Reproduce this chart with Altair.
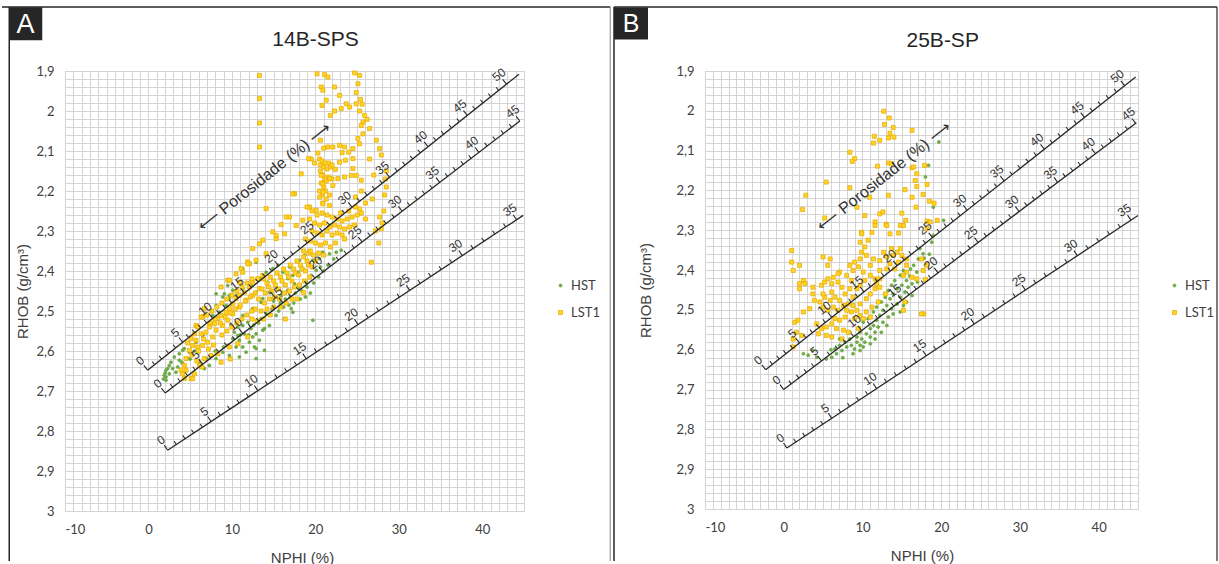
import math
import altair as alt
import pandas as pd

# ------------------------------------------------------------------ data
X_TICKS = list(range(-10, 46))
Y_TICKS = [round(1.9 + 0.02 * i, 2) for i in range(56)]

SERIES = ["HST", "LST1"]

HST_A = [
    (1.9, 2.661), (2.1, 2.648), (2.5, 2.636), (2.9, 2.644), (3.5, 2.640), (4.0, 2.628), (4.7, 2.619),
    (4.9, 2.603), (5.3, 2.586), (4.3, 2.594), (3.7, 2.607), (2.5, 2.657), (2.1, 2.665), (3.3, 2.653),
    (2.1, 2.673), (2.3, 2.644), (2.7, 2.628), (3.7, 2.623), (4.1, 2.632), (3.1, 2.615), (4.1, 2.598),
    (1.8, 2.670), (2.0, 2.655), (5.0, 2.620), (5.5, 2.600),
    (6.1, 2.628), (6.7, 2.644), (7.3, 2.636), (8.1, 2.619), (8.9, 2.603), (9.5, 2.586), (10.1, 2.569),
    (10.3, 2.553), (10.7, 2.540), (11.3, 2.536), (11.9, 2.528), (12.3, 2.544), (11.5, 2.557), (10.9, 2.573),
    (10.5, 2.590), (9.7, 2.611), (11.3, 2.590), (12.1, 2.578), (12.5, 2.565), (12.9, 2.557), (13.9, 2.544),
    (13.3, 2.573), (12.7, 2.590), (11.7, 2.603), (10.9, 2.615), (8.5, 2.503), (9.3, 2.486), (8.1, 2.486),
    (7.7, 2.511), (9.7, 2.461), (10.1, 2.448), (8.9, 2.465), (8.1, 2.457), (11.3, 2.511), (12.5, 2.494),
    (13.5, 2.478), (14.1, 2.507), (13.5, 2.519), (12.9, 2.619), (13.9, 2.598),
    (23.1, 2.348), (22.5, 2.353), (21.7, 2.357), (20.9, 2.353), (20.5, 2.369), (19.7, 2.373), (19.1, 2.386),
    (18.5, 2.394), (17.9, 2.403), (17.3, 2.411), (16.7, 2.419), (16.1, 2.403), (15.5, 2.386), (14.9, 2.394),
    (16.9, 2.390), (18.1, 2.373), (18.7, 2.361), (17.5, 2.432), (18.1, 2.444), (18.9, 2.428), (19.5, 2.411),
    (20.1, 2.398), (16.7, 2.448), (15.9, 2.461), (15.3, 2.440), (14.3, 2.428), (14.1, 2.403), (13.3, 2.419),
    (14.5, 2.453), (13.7, 2.469), (12.9, 2.453), (12.3, 2.436), (11.3, 2.444), (10.5, 2.461), (9.7, 2.469),
    (9.1, 2.457),
    (19.7, 2.523), (17.3, 2.503), (17.1, 2.494), (16.3, 2.519), (14.5, 2.536), (12.9, 2.594), (13.7, 2.548),
    (15.3, 2.511), (10.7, 2.561), (5.7, 2.578), (6.5, 2.561), (9.5, 2.436), (11.3, 2.394), (12.9, 2.378),
    (15.0, 2.475), (15.8, 2.480), (16.4, 2.470), (17.0, 2.465), (17.6, 2.455), (18.4, 2.450), (19.0, 2.440),
    (19.8, 2.430), (20.4, 2.415), (21.0, 2.400), (14.8, 2.495), (15.6, 2.500), (16.2, 2.490), (16.8, 2.485),
    (17.4, 2.480), (18.2, 2.470), (18.8, 2.465), (21.5, 2.385), (22.2, 2.370), (20.6, 2.390), (19.4, 2.455),
    (12.0, 2.560), (12.6, 2.535), (13.2, 2.530), (11.0, 2.560), (9.0, 2.590), (8.0, 2.600), (7.0, 2.620),
]

LST1_A = [
    (13.3, 1.911), (13.3, 1.969), (13.3, 2.030), (13.3, 2.090),
    (20.2, 1.907), (21.1, 1.909), (21.5, 1.915), (20.7, 1.940), (20.9, 1.948), (22.3, 1.940), (22.9, 1.961),
    (21.3, 1.973), (20.8, 1.986), (22.3, 2.000), (21.8, 2.011), (23.1, 1.994), (23.7, 1.982), (24.1, 1.990),
    (24.7, 1.905), (25.3, 1.911), (25.1, 1.932), (24.9, 1.954), (25.4, 1.971), (24.9, 1.982), (25.6, 1.983),
    (25.3, 2.000), (25.9, 2.011), (25.7, 2.028), (25.5, 2.036), (26.2, 2.021), (26.5, 2.044), (25.7, 2.057),
    (25.1, 2.069), (25.3, 2.082), (24.5, 2.094), (24.5, 2.119), (24.0, 2.103), (23.5, 2.090), (22.9, 2.086),
    (22.1, 2.090), (21.5, 2.090), (21.0, 2.093), (23.2, 2.104), (23.6, 2.123), (22.9, 2.128), (24.5, 2.144),
    (22.4, 2.146), (24.9, 2.161), (25.5, 2.173), (20.6, 2.073),
    (20.3, 2.105), (20.5, 2.120), (20.6, 2.135), (20.8, 2.125), (21.0, 2.140), (21.2, 2.130), (21.4, 2.145),
    (21.6, 2.130), (21.8, 2.140), (22.0, 2.135), (20.6, 2.150), (20.9, 2.160), (21.1, 2.170), (20.7, 2.180),
    (21.0, 2.190), (21.3, 2.175), (21.6, 2.165), (22.0, 2.170), (20.5, 2.200), (20.8, 2.210), (21.2, 2.200),
    (20.9, 2.230), (21.3, 2.220), (21.7, 2.210), (19.5, 2.120), (19.9, 2.130), (18.3, 2.157), (19.2, 2.119),
    (17.5, 2.207),
    (27.3, 2.073), (27.7, 2.094), (27.9, 2.110), (28.5, 2.150), (28.4, 2.170), (28.5, 2.190), (28.3, 2.210),
    (28.2, 2.250), (28.0, 2.280), (27.6, 2.330), (27.2, 2.300), (26.8, 2.220), (27.0, 2.160), (26.5, 2.120),
    (26.7, 2.378), (27.9, 2.294), (27.7, 2.265),
    (20.7, 2.161), (20.9, 2.182), (21.7, 2.169), (22.7, 2.169), (23.5, 2.165), (24.3, 2.161), (22.1, 2.186),
    (20.9, 2.203), (20.5, 2.215), (21.7, 2.236), (20.9, 2.232), (19.3, 2.240), (20.1, 2.248), (25.5, 2.200),
    (26.0, 2.230), (24.8, 2.215),
    (17.3, 2.207), (14.1, 2.244), (18.5, 2.273), (16.9, 2.265), (15.9, 2.284), (17.7, 2.286), (16.3, 2.307),
    (14.9, 2.302), (13.7, 2.323), (15.3, 2.319), (12.5, 2.344), (14.1, 2.357), (11.9, 2.377), (12.9, 2.373),
    (11.1, 2.394), (9.5, 2.423), (10.5, 2.407), (13.3, 2.332), (8.7, 2.440), (9.7, 2.423), (12.1, 2.382),
    (6.5, 2.515), (5.7, 2.536), (16.5, 2.265), (15.3, 2.311),
    (19.0, 2.240), (19.6, 2.250), (20.2, 2.260), (20.8, 2.255), (21.4, 2.260), (22.0, 2.265), (22.6, 2.270),
    (23.2, 2.275), (23.8, 2.270), (24.4, 2.265), (25.0, 2.260), (25.5, 2.255), (19.3, 2.270), (19.9, 2.280),
    (20.5, 2.285), (21.1, 2.280), (21.7, 2.290), (22.3, 2.285), (22.9, 2.290), (23.5, 2.295), (24.1, 2.290),
    (24.7, 2.285), (19.6, 2.300), (20.2, 2.305), (20.8, 2.310), (21.4, 2.300), (22.0, 2.310), (22.6, 2.305),
    (23.2, 2.310), (18.8, 2.320), (19.4, 2.325), (20.0, 2.330), (20.6, 2.335), (21.2, 2.330), (21.8, 2.340),
    (22.4, 2.330), (18.6, 2.350), (19.2, 2.355), (19.8, 2.360), (20.4, 2.355), (21.0, 2.360), (24.8, 2.240),
    (25.3, 2.245), (24.0, 2.250), (23.0, 2.255), (26.0, 2.270), (23.5, 2.320),
    (11.9, 2.382), (11.3, 2.403), (10.9, 2.428), (6.7, 2.494), (6.3, 2.515), (5.9, 2.540), (5.5, 2.557),
    (5.1, 2.569), (5.7, 2.573), (6.3, 2.557), (6.9, 2.553), (7.3, 2.540), (7.9, 2.532), (8.3, 2.519),
    (8.7, 2.511), (9.3, 2.503), (9.7, 2.494), (10.1, 2.482), (10.5, 2.469), (10.9, 2.461), (11.5, 2.453),
    (12.1, 2.440), (12.5, 2.428), (13.1, 2.419), (13.7, 2.411), (13.3, 2.444), (12.5, 2.461), (11.7, 2.473),
    (10.9, 2.490), (10.1, 2.507), (9.5, 2.523), (8.9, 2.536), (8.1, 2.548), (7.7, 2.565), (7.1, 2.578),
    (6.5, 2.586), (5.9, 2.590), (5.3, 2.586), (4.9, 2.598), (4.5, 2.619), (4.3, 2.636), (4.5, 2.648),
    (4.1, 2.657), (5.1, 2.669), (5.5, 2.657), (6.1, 2.636), (6.7, 2.619), (7.5, 2.611), (8.7, 2.628),
    (8.3, 2.607), (9.7, 2.590), (10.7, 2.582), (11.9, 2.565), (4.3, 2.669), (5.3, 2.669), (3.9, 2.648),
    (13.8, 2.420), (14.2, 2.430), (14.6, 2.415), (15.0, 2.425), (15.4, 2.405), (15.8, 2.415), (16.2, 2.395),
    (16.6, 2.405), (17.0, 2.385), (17.4, 2.395), (17.8, 2.375), (18.2, 2.385), (18.6, 2.365), (19.0, 2.375),
    (19.4, 2.350), (13.6, 2.445), (14.0, 2.455), (14.4, 2.440), (14.8, 2.450), (15.2, 2.435), (15.6, 2.445),
    (16.0, 2.425), (16.4, 2.435), (16.8, 2.415), (17.2, 2.425), (17.6, 2.405), (18.0, 2.410), (18.4, 2.395),
    (18.8, 2.400), (19.2, 2.385), (19.6, 2.390), (20.0, 2.375), (13.2, 2.470), (13.9, 2.480), (14.5, 2.470),
    (15.1, 2.465), (15.7, 2.470), (16.3, 2.455), (16.9, 2.450), (17.5, 2.440), (18.1, 2.435), (18.7, 2.425),
    (19.3, 2.415), (12.8, 2.495), (13.5, 2.500), (14.2, 2.495), (15.0, 2.490), (15.8, 2.490), (16.5, 2.480),
    (17.2, 2.470), (12.4, 2.520), (13.0, 2.525), (13.8, 2.520), (14.6, 2.510),
    (7.0, 2.510), (7.6, 2.500), (8.2, 2.490), (8.8, 2.480), (9.4, 2.470), (10.0, 2.460), (10.6, 2.450),
    (11.2, 2.440), (11.8, 2.430), (12.4, 2.420), (7.4, 2.530), (8.0, 2.520), (8.6, 2.530), (9.2, 2.515),
    (9.8, 2.505), (10.4, 2.495), (11.0, 2.485), (11.6, 2.475), (12.2, 2.465), (12.8, 2.455), (8.8, 2.560),
    (9.4, 2.550), (10.0, 2.540), (10.6, 2.530), (11.2, 2.520), (11.8, 2.510), (12.4, 2.500), (6.0, 2.600),
    (6.6, 2.570), (7.2, 2.595), (7.8, 2.585), (4.7, 2.580), (5.2, 2.610), (5.8, 2.625), (6.4, 2.640),
    (9.8, 2.620), (16.4, 2.520), (18.6, 2.454), (17.8, 2.470),
]

HST_B = [
    (17.3, 2.346), (17.7, 2.359), (17.1, 2.372), (16.5, 2.388), (16.9, 2.405), (16.1, 2.397), (15.6, 2.426),
    (15.0, 2.438), (14.4, 2.447), (13.9, 2.460), (13.5, 2.472), (14.8, 2.468), (15.4, 2.455), (15.8, 2.443),
    (16.3, 2.434), (13.1, 2.489), (12.6, 2.501), (12.2, 2.514), (11.8, 2.526), (11.4, 2.539), (11.0, 2.547),
    (10.5, 2.560), (9.9, 2.573), (9.3, 2.581), (8.6, 2.589), (8.0, 2.593), (7.4, 2.602), (6.7, 2.610),
    (6.1, 2.619), (13.7, 2.497), (14.4, 2.485), (13.9, 2.510), (13.3, 2.518), (12.6, 2.531), (12.0, 2.543),
    (11.6, 2.556), (11.0, 2.568), (10.3, 2.581), (9.7, 2.589), (9.0, 2.598), (11.4, 2.505), (10.7, 2.522),
    (10.1, 2.531), (11.8, 2.493), (12.4, 2.480), (12.9, 2.468), (13.3, 2.451), (13.7, 2.438), (14.1, 2.426),
    (14.8, 2.413), (15.2, 2.401), (9.7, 2.556), (9.3, 2.568), (8.4, 2.573), (7.8, 2.581), (7.1, 2.589),
    (6.5, 2.598), (8.4, 2.556), (3.7, 2.602), (2.5, 2.610), (3.1, 2.614), (4.2, 2.619), (5.4, 2.623),
    (19.0, 2.313), (18.8, 2.330), (18.0, 2.388), (16.3, 2.464), (15.6, 2.480), (15.2, 2.489), (14.8, 2.505),
    (13.1, 2.539), (12.4, 2.556), (11.6, 2.573), (11.0, 2.585), (10.1, 2.593), (9.7, 2.602), (8.8, 2.610),
    (7.1, 2.573), (19.7, 2.078), (18.0, 2.166), (18.4, 2.137), (19.0, 2.242), (20.3, 2.275), (17.0, 2.430),
    (16.0, 2.415), (17.8, 2.370), (18.5, 2.360), (7.5, 2.620), (6.0, 2.600),
]

LST1_B = [
    (12.7, 2.001), (13.4, 2.018), (12.8, 2.034), (13.9, 2.042), (13.5, 2.056), (13.3, 2.068), (14.0, 2.066),
    (11.5, 2.064), (12.2, 2.074), (11.4, 2.081), (16.3, 2.049), (8.4, 2.104), (9.0, 2.120), (8.7, 2.127),
    (13.3, 2.131), (13.7, 2.133), (11.9, 2.139), (16.3, 2.143), (17.9, 2.137), (16.9, 2.158), (18.2, 2.185),
    (16.9, 2.190), (5.4, 2.179), (8.4, 2.193), (10.9, 2.217), (13.3, 2.212), (15.4, 2.198), (17.7, 2.210),
    (16.3, 2.217), (18.5, 2.227), (19.1, 2.232), (16.8, 2.242), (9.3, 2.242), (2.8, 2.212), (2.4, 2.248),
    (5.2, 2.269), (10.3, 2.263), (12.2, 2.259), (12.6, 2.254), (11.6, 2.279), (13.0, 2.285), (15.0, 2.257),
    (14.8, 2.288), (15.5, 2.275), (9.9, 2.305), (13.5, 2.309), (14.6, 2.307), (18.2, 2.277), (19.5, 2.275),
    (16.5, 2.141), (16.7, 2.175), (18.6, 2.279), (18.2, 2.296), (17.5, 2.372), (18.2, 2.388), (17.7, 2.401),
    (15.6, 2.388), (15.4, 2.480), (18.0, 2.424), (17.8, 2.510),
    (1.0, 2.351), (1.0, 2.380), (2.0, 2.388), (1.2, 2.401), (2.5, 2.426), (2.7, 2.434), (2.0, 2.434),
    (2.0, 2.447), (3.7, 2.443), (4.8, 2.438), (5.2, 2.430), (5.6, 2.422), (6.3, 2.418), (6.1, 2.434),
    (6.9, 2.430), (7.4, 2.443), (3.7, 2.460), (3.9, 2.476), (3.3, 2.497), (2.5, 2.505), (1.8, 2.526),
    (1.4, 2.531), (1.6, 2.556), (1.2, 2.573), (1.2, 2.593), (2.3, 2.564), (4.6, 2.480), (5.2, 2.468),
    (5.9, 2.476), (6.5, 2.468), (7.1, 2.476), (5.0, 2.493), (5.6, 2.501), (6.3, 2.493), (6.9, 2.501),
    (7.6, 2.489), (8.2, 2.485), (8.8, 2.489), (8.0, 2.501), (8.6, 2.505), (9.3, 2.501), (9.7, 2.514),
    (9.0, 2.522), (7.8, 2.518), (7.1, 2.526), (6.5, 2.522), (6.1, 2.535), (5.4, 2.543), (4.8, 2.547),
    (4.4, 2.560), (4.2, 2.535), (6.7, 2.547), (7.6, 2.551), (7.4, 2.573), (8.2, 2.556), (6.1, 2.568),
    (5.4, 2.564), (5.0, 2.460), (6.1, 2.455), (7.8, 2.460), (8.4, 2.447), (8.8, 2.468), (9.7, 2.485),
    (10.5, 2.472), (11.0, 2.460), (11.6, 2.447), (11.8, 2.434), (12.2, 2.422), (11.6, 2.422), (11.0, 2.413),
    (10.3, 2.426), (9.7, 2.438), (9.3, 2.447), (10.1, 2.405), (9.5, 2.392), (9.0, 2.380), (8.4, 2.388),
    (8.8, 2.401), (7.1, 2.405), (8.0, 2.413), (8.6, 2.426), (12.7, 2.355), (13.1, 2.367), (12.2, 2.376),
    (13.7, 2.346), (13.9, 2.363), (14.4, 2.355), (14.8, 2.346), (15.0, 2.363), (13.5, 2.384), (13.1, 2.397),
    (12.2, 2.401), (14.1, 2.397), (14.6, 2.380), (15.6, 2.372), (11.0, 2.388), (11.4, 2.372), (10.5, 2.363),
    (9.7, 2.372), (9.9, 2.355), (9.7, 2.330), (10.3, 2.342), (10.7, 2.325), (9.9, 2.309), (11.2, 2.305),
    (11.6, 2.288), (13.1, 2.288), (15.2, 2.288), (5.9, 2.372), (5.6, 2.388), (5.0, 2.367), (6.9, 2.409),
    (15.6, 2.405), (15.2, 2.413), (16.3, 2.418), (12.2, 2.443), (12.9, 2.460), (12.0, 2.480), (11.2, 2.493),
    (10.5, 2.505), (10.1, 2.522), (11.0, 2.518), (9.5, 2.547), (16.9, 2.422), (17.5, 2.510), (15.2, 2.501),
]

# porosity reference lines (sandstone / limestone / dolomite):
# start and end point (NPHI, RHOB), NPHI position of the labelled porosity ticks 0, 5, 10, ...
LINES_A = [
    dict(start=(-0.1, 2.648), end=(44.4, 1.908),
         majors=[-0.1, 4.1, 7.7, 11.5, 15.6, 19.9, 24.4, 28.9, 33.5, 38.2], pmax=50),
    dict(start=(2.0, 2.705), end=(44.5, 2.025),
         majors=[2.0, 6.5, 11.3, 16.1, 20.9, 25.6, 30.4, 34.9, 39.6, 44.5], pmax=45),
    dict(start=(2.3, 2.848), end=(44.9, 2.261),
         majors=[2.3, 7.5, 13.1, 18.9, 25.1, 31.3, 37.6, 44.1], pmax=36),
]
LINES_B = [
    dict(start=(-2.3, 2.650), end=(44.7, 1.915),
         majors=[-2.3, 2.0, 6.1, 10.2, 14.4, 18.9, 23.3, 28.0, 33.1, 38.2], pmax=50),
    dict(start=(0.0, 2.700), end=(44.8, 2.030),
         majors=[0.0, 4.8, 9.9, 15.0, 19.6, 24.7, 29.9, 34.8, 39.6, 44.7], pmax=45),
    dict(start=(0.4, 2.847), end=(45.0, 2.263),
         majors=[0.4, 6.1, 11.8, 18.1, 24.2, 30.7, 37.3, 44.1], pmax=36),
]

POROS_LABEL = "\u27f5  Porosidade (%)  \u27f6"

# ------------------------------------------------------------------ styling
NUM_FONT = "Lato"
TXT_FONT = "Liberation Sans"
INK = "#262626"
GREEN = "#6EAA45"
YELLOW = "#FFD42A"
YELLOW_EDGE = "#EBAE00"
ONE = pd.DataFrame({"k": [0]})


def line_angle(line, w, h):
    (x0, y0), (x1, y1) = line["start"], line["end"]
    dx = (x1 - x0) * w / 55.0
    dy = (y0 - y1) * h / 1.1
    return math.degrees(math.atan2(dy, dx))


def tick_rows(line, w, h):
    (x0, y0), (x1, y1) = line["start"], line["end"]
    majors = line["majors"]
    ang = 360 - line_angle(line, w, h)
    rows = []
    n = len(majors)
    for p in range(0, line["pmax"] + 1):
        k, r = divmod(p, 5)
        if k < n - 1:
            nphi = majors[k] + (majors[k + 1] - majors[k]) * r / 5.0
        else:
            step = (majors[-1] - majors[-2]) / 5.0
            nphi = majors[-1] + step * (p - 5 * (n - 1))
        if nphi > x1 + 1e-6:
            break
        rhob = y0 + (nphi - x0) * (y1 - y0) / (x1 - x0)
        rows.append(dict(NPHI=nphi, RHOB=rhob, major=(r == 0), a=ang,
                         lab=str(p) if r == 0 else ""))
    return rows


def panel(cfg):
    W, H = cfg["w"], cfg["h"]
    xs = alt.Scale(domain=[-10, 45], nice=False, zero=False)
    ys = alt.Scale(domain=[1.9, 3.0], reverse=True, nice=False, zero=False)

    x_axis = alt.Axis(values=X_TICKS, labelExpr="datum.value % 10 == 0 ? toString(datum.value) : ''",
                      title="NPHI (%)", grid=True, ticks=False, domain=False, labelOverlap=False,
                      labelPadding=12, labelFont=NUM_FONT, labelFontSize=13, labelColor="#404040",
                      titleFont=TXT_FONT, titleFontSize=15, titleFontWeight="normal", titleColor="#404040",
                      titlePadding=14, titleX=cfg["xtitle_x"], titleAlign="center",
                      gridColor="#D4D4D4", gridWidth=1)
    y_axis = alt.Axis(values=Y_TICKS,
                      labelExpr="abs(datum.value * 10 - round(datum.value * 10)) < 0.001 ? "
                                "replace(format(datum.value, '.1~f'), '.', ',') : ''",
                      title="RHOB (g/cm\u00b3)", grid=True, ticks=False, domain=False, labelOverlap=False,
                      labelPadding=11, labelFont=NUM_FONT, labelFontSize=13, labelColor="#404040",
                      titleFont=TXT_FONT, titleFontSize=15, titleFontWeight="normal", titleColor="#404040",
                      titleX=cfg["ytitle_x"], titleY=H / 2, titleAngle=270, titleAlign="center",
                      titleBaseline="middle", gridColor="#D4D4D4", gridWidth=1)

    def X(field="NPHI"):
        return alt.X(f"{field}:Q", scale=xs, axis=x_axis)

    def Y(field="RHOB"):
        return alt.Y(f"{field}:Q", scale=ys, axis=y_axis)

    pts = pd.DataFrame(
        [dict(NPHI=x, RHOB=y, serie="HST") for x, y in cfg["hst"]]
        + [dict(NPHI=x, RHOB=y, serie="LST1") for x, y in cfg["lst"]]
    )
    leg = alt.Legend(orient="none", legendX=cfg["legend"][0], legendY=cfg["legend"][1],
                     title=None, labelFont=NUM_FONT, labelFontSize=13, labelColor="#404040",
                     rowPadding=13, labelOffset=4, symbolStrokeWidth=0.8)

    scatter = alt.Chart(pts).mark_point(filled=True, opacity=1, strokeWidth=0.8).encode(
        x=X(), y=Y(),
        fill=alt.Fill("serie:N", scale=alt.Scale(domain=SERIES, range=[GREEN, YELLOW]), legend=leg),
        stroke=alt.Stroke("serie:N", scale=alt.Scale(domain=SERIES, range=[GREEN, YELLOW_EDGE]), legend=leg),
        size=alt.Size("serie:N", scale=alt.Scale(domain=SERIES, range=[9, 16]), legend=leg),
        shape=alt.Shape("serie:N", scale=alt.Scale(domain=SERIES, range=["circle", "square"]), legend=leg),
    )

    lines = cfg["lines"]
    ldf = pd.DataFrame([dict(NPHI=l["start"][0], RHOB=l["start"][1],
                             NPHI2=l["end"][0], RHOB2=l["end"][1]) for l in lines])
    rules = alt.Chart(ldf).mark_rule(color=INK, strokeWidth=1.3).encode(
        x=X(), y=Y(), x2="NPHI2:Q", y2="RHOB2:Q")

    trows = []
    for l in lines:
        trows += tick_rows(l, W, H)
    tdf = pd.DataFrame(trows)
    minor = alt.Chart(tdf[~tdf.major]).mark_point(shape="M0,0L0,-1", filled=False, size=64, opacity=1,
                                                   color=INK, strokeWidth=1).encode(
        x=X(), y=Y(), angle=alt.Angle("a:Q", scale=None))
    major = alt.Chart(tdf[tdf.major]).mark_point(shape="M0,0L0,-1", filled=False, size=150, opacity=1,
                                                  color=INK, strokeWidth=1.1).encode(
        x=X(), y=Y(), angle=alt.Angle("a:Q", scale=None))
    labels = alt.Chart(tdf[tdf.major]).mark_text(font=TXT_FONT, fontSize=12, color="#333333",
                                                  align="center", baseline="middle", dy=-12).encode(
        x=X(), y=Y(), text="lab:N", angle=alt.Angle("a:Q", scale=None))

    pang = 360 - line_angle(lines[0], W, H)
    pdf = pd.DataFrame([dict(NPHI=cfg["poros"][0], RHOB=cfg["poros"][1], t=POROS_LABEL)])
    poros = alt.Chart(pdf).mark_text(font=TXT_FONT, fontSize=16, color="#333333", angle=pang,
                                     align="center", baseline="middle").encode(
        x=X(), y=Y(), text="t:N")

    b = cfg["border"]
    deco = [
        alt.Chart(ONE).mark_rule(color=INK, strokeWidth=1.5).encode(
            x=alt.value(b["top_x"][0]), x2=alt.value(b["top_x"][1]), y=alt.value(b["top_y"])),
        alt.Chart(ONE).mark_rule(color=INK, strokeWidth=1.5).encode(
            x=alt.value(b["left"]), y=alt.value(b["top_y"]), y2=alt.value(b["bottom"])),
        alt.Chart(ONE).mark_rule(color=b["right_color"], strokeWidth=1.2).encode(
            x=alt.value(b["right"]), y=alt.value(b["top_y"]), y2=alt.value(b["bottom"])),
        alt.Chart(ONE).mark_rect(color=INK).encode(
            x=alt.value(cfg["box"][0]), x2=alt.value(cfg["box"][1]),
            y=alt.value(cfg["box"][2]), y2=alt.value(cfg["box"][3])),
        alt.Chart(ONE).mark_text(text=cfg["letter"], font=TXT_FONT, fontSize=cfg["letter_size"],
                                 color="white", align="center", baseline="middle").encode(
            x=alt.value(cfg["letter_xy"][0]), y=alt.value(cfg["letter_xy"][1])),
        alt.Chart(ONE).mark_text(text=cfg["title"], font=TXT_FONT, fontSize=21, color=INK,
                                 align="center", baseline="middle").encode(
            x=alt.value(cfg["title_xy"][0]), y=alt.value(cfg["title_xy"][1])),
    ]
    return alt.layer(scatter, rules, minor, major, labels, poros, *deco).properties(width=W, height=H)


PANEL_A = dict(
    w=459, h=440, hst=HST_A, lst=LST1_A, lines=LINES_A, title="14B-SPS", letter="A",
    title_xy=(250.5, -31.5), letter_xy=(-39.5, -46.5), letter_size=27,
    box=(-55.75, -22.75, -63.75, -30.75), legend=(489, 208), ytitle_x=-42.5, xtitle_x=237,
    poros=(13.9, 2.165),
    border=dict(top_x=(-63, 545.25), top_y=-64, left=-55.75, right=545.25, bottom=490, right_color="#9A9A9A"),
)
PANEL_B = dict(
    w=433, h=438, hst=HST_B, lst=LST1_B, lines=LINES_B, title="25B-SP", letter="B",
    title_xy=(237.7, -30), letter_xy=(-74, -47), letter_size=25,
    box=(-91, -57, -63.5, -31.5), legend=(463, 208), ytitle_x=-60, xtitle_x=217,
    poros=(12.74, 2.165),
    border=dict(top_x=(-91, 512), top_y=-64, left=-91, right=512, bottom=490, right_color=INK),
)

chart = alt.hconcat(panel(PANEL_A), panel(PANEL_B), spacing=181, bounds="flush").resolve_legend(
    fill="independent", stroke="independent", size="independent", shape="independent"
).properties(
    padding={"left": 0, "top": 5, "right": 0, "bottom": 0}, background="white"
).configure_view(stroke="#C8C8C8", strokeWidth=1)

chart.save("out.html", embed_options={"renderer": "svg", "actions": False})
